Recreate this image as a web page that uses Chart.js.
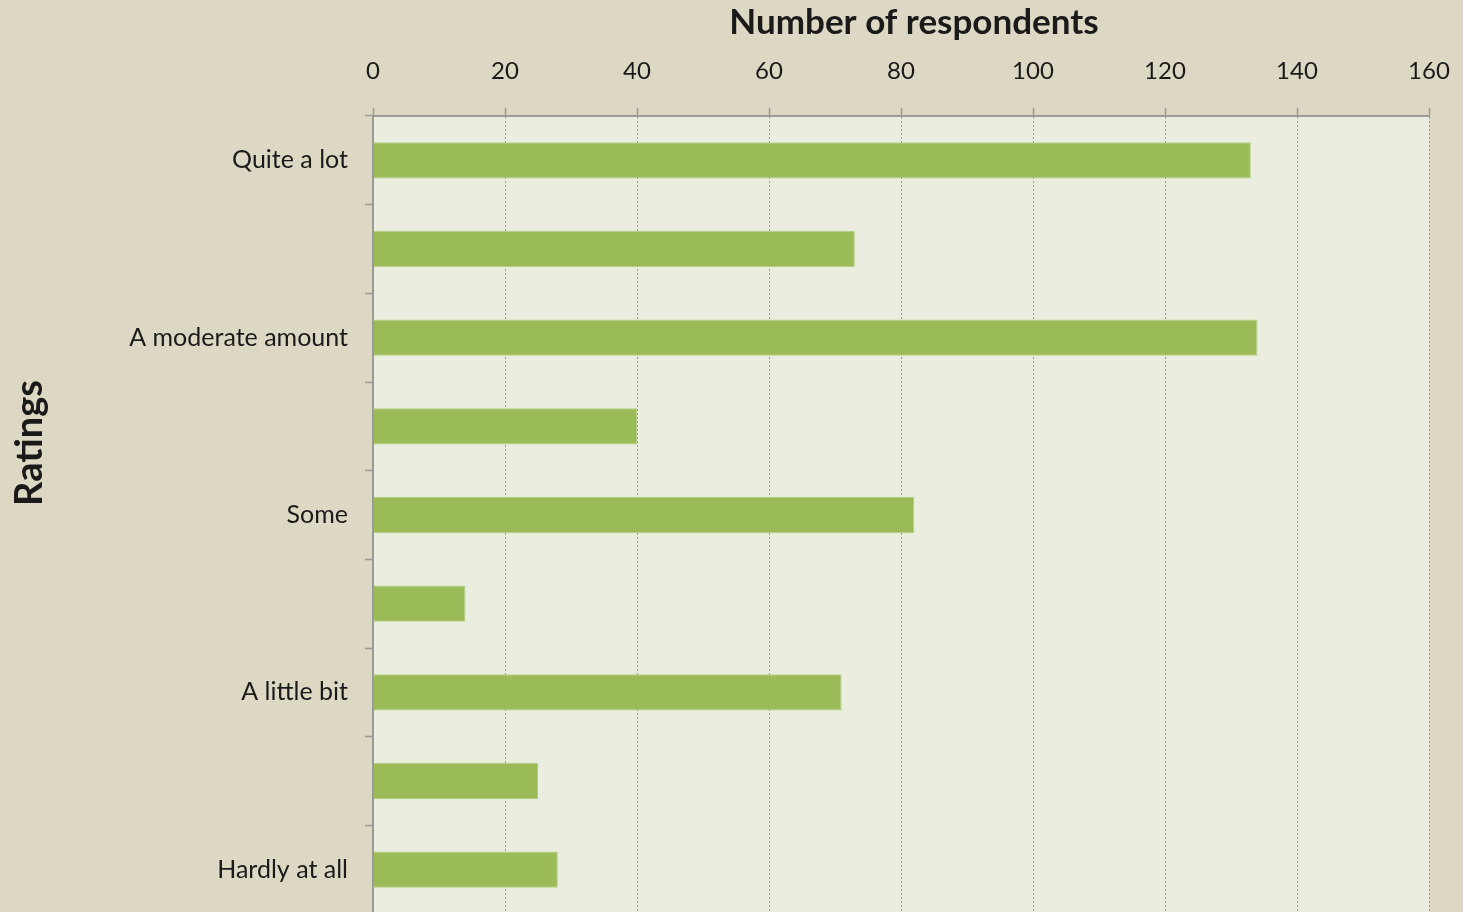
<!DOCTYPE html>
<html>
<head>
<meta charset="utf-8">
<script src="https://cdn.jsdelivr.net/npm/chart.js@4"></script>
<style>
  html, body { margin: 0; padding: 0; overflow: hidden; background: #DDD8C3; }
  canvas { display: block; }
</style>
</head>
<body>
<canvas id="ratingsChart" width="1463" height="914"></canvas>
<script>
// data
const categories = ['Quite a lot', '', 'A moderate amount', '', 'Some', '', 'A little bit', '', 'Hardly at all'];
const respondents = [133, 73, 134, 40, 82, 14, 71, 25, 28];
const xTicks = [0, 20, 40, 60, 80, 100, 120, 140, 160];
const xTitle = 'Number of respondents';
const yTitle = 'Ratings';

// colours
const PAGE_BG = '#DDD8C3';
const PLOT_BG = '#EBEEDF';
const BAR     = '#9BBB59';
const AXIS    = '#9A9A96';
const TEXT    = '#1A1A1A';
const FONT    = 'Lato';

// paint page and plot area backgrounds
const backgrounds = {
    id: 'backgrounds',
    beforeDraw(chart) {
        const { ctx, chartArea: a } = chart;
        ctx.save();
        ctx.fillStyle = PAGE_BG;
        ctx.fillRect(0, 0, chart.width, chart.height);
        ctx.fillStyle = PLOT_BG;
        ctx.fillRect(a.left, a.top, a.right - a.left, a.bottom - a.top);
        ctx.restore();
    }
};

// axis titles, placed where the original put them
const axisTitles = {
    id: 'axisTitles',
    afterDraw(chart) {
        const { ctx } = chart;
        ctx.save();
        ctx.fillStyle = TEXT;
        ctx.textAlign = 'center';
        ctx.textBaseline = 'middle';
        ctx.font = 'bold 35px ' + FONT;
        ctx.fillText(xTitle, 914, 23);
        ctx.font = 'bold 38px ' + FONT;
        ctx.translate(30, 443);
        ctx.rotate(-Math.PI / 2);
        ctx.fillText(yTitle, 0, 0);
        ctx.restore();
    }
};

new Chart(document.getElementById('ratingsChart'), {
    type: 'bar',
    data: {
        labels: categories,
        datasets: [{
            data: respondents,
            backgroundColor: BAR,
            borderColor: '#B3CC82',
            borderWidth: 1,
            barPercentage: 0.41,
            categoryPercentage: 1,
        }]
    },
    options: {
        indexAxis: 'y',
        responsive: false,
        animation: false,
        layout: { padding: { top: 0, right: 34, bottom: 0, left: 0 } },
        plugins: {
            legend: { display: false },
            tooltip: { enabled: false }
        },
        scales: {
            x: {
                position: 'top',
                min: 0,
                max: 160,
                afterBuildTicks: s => { s.ticks = xTicks.map(v => ({ value: v })); },
                // fixed height, no extra room for the end labels
                afterFit: s => { s.height = 116; s.paddingLeft = 0; s.paddingRight = 0; },
                ticks: {
                    color: TEXT,
                    font: { family: FONT, size: 24 },
                    padding: 22,
                    maxRotation: 0
                },
                grid: {
                    color: '#9A9A96',
                    lineWidth: 1,
                    tickLength: 8,
                    tickColor: AXIS,
                    tickWidth: 1.5,
                    tickBorderDash: []
                },
                border: { display: true, color: AXIS, width: 2, dash: [2, 2] }
            },
            y: {
                afterFit: s => { s.width = 373; s.paddingTop = 0; s.paddingBottom = 0; },
                ticks: {
                    color: TEXT,
                    font: { family: FONT, size: 25 },
                    padding: 17,
                    autoSkip: false
                },
                grid: {
                    offset: true,
                    drawOnChartArea: false,
                    tickLength: 8,
                    tickColor: AXIS,
                    tickWidth: 1.5
                },
                border: { display: true, color: AXIS, width: 2 }
            }
        }
    },
    plugins: [backgrounds, axisTitles]
});
</script>
</body>
</html>
